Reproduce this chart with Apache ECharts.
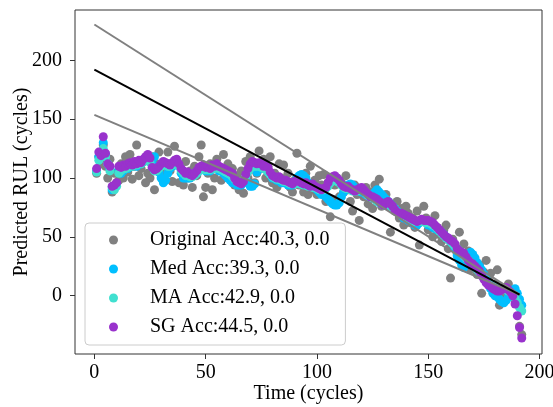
<!DOCTYPE html>
<html>
<head>
<meta charset="utf-8">
<script src="https://cdn.jsdelivr.net/npm/echarts@6/dist/echarts.min.js"></script>
<style>html,body{margin:0;padding:0;background:#fff;}#c{width:553px;height:407px;}</style>
</head>
<body>
<div id="c"></div>
<script>
// ---------------- data ----------------
const seriesNames = ['Original Acc:40.3, 0.0', 'Med Acc:39.3, 0.0', 'MA Acc:42.9, 0.0', 'SG Acc:44.5, 0.0'];
const firstCycle = 1;   // cycles run 1..192

const original = [
104,118,112,128,110,100,116,88,104,96,
98,112,100,118,105,120,99,110,128,102,
108,114,96,104,100,118,90,112,122,104,
98,110,122,106,97,127,112,96,108,94,
114,100,106,92,110,102,118,128,84,92,
104,112,90,100,116,108,98,120,104,112,
100,108,94,102,90,106,87,114,100,118,
110,96,104,123,108,116,100,110,118,96,
104,92,112,100,111,96,104,92,88,98,
121,94,100,88,104,86,110,90,98,86,
102,94,103,80,96,67,82,94,100,84,
96,88,102,90,80,72,94,86,64,90,
84,92,78,88,74,94,80,99,76,84,
86,76,54,78,72,80,66,74,60,76,
70,62,66,58,72,43,64,76,66,56,
62,50,68,58,52,46,56,60,40,15,
48,42,36,54,30,44,26,38,22,34,
30,18,26,2,20,30,14,19,8,10,
22,-8,4,-2,6,10,0,4,-4,-2,
-26,-33];

const med = [
106,118,118,130,120,112,108,90,92,95,
106,104,106,108,108,110,110,112,110,112,
112,114,116,118,115,112,118,110,105,100,
96,98,104,108,110,112,112,110,104,100,
100,100,100,102,104,104,106,108,108,106,
106,106,108,108,108,106,106,104,102,100,
98,96,96,94,94,94,96,98,96,93,
93,95,105,110,110,108,108,105,103,100,
100,98,98,96,96,96,94,94,94,96,
100,102,103,102,100,96,94,94,92,90,
88,86,86,84,82,80,78,77,77,79,
84,88,92,94,95,94,92,90,90,88,
88,86,85,84,86,88,90,88,86,84,
82,80,78,76,74,72,70,68,66,66,
64,64,62,60,60,62,64,63,62,60,
60,58,57,56,55,54,52,50,48,46,
44,40,34,30,26,24,28,34,37,35,
32,28,25,22,18,14,10,6,2,0,
-1,-3,-5,-6,-4,-1,2,4,6,2,
-3,-8];

const ma = [
105,115,118,125,118,112,106,92,90,93,
104,106,108,108,109,110,110,111,111,112,
112,114,115,116,113,109,106,106,108,110,
111,111,110,110,111,112,112,110,106,104,
102,102,101,101,102,104,106,107,108,107,
107,107,108,108,109,108,107,106,105,104,
103,101,99,97,96,96,98,101,105,108,
110,110,110,110,109,108,107,105,103,101,
100,99,99,98,97,97,96,95,95,95,
96,95,95,94,94,93,93,92,92,91,
90,90,90,91,93,96,98,98,97,96,
94,92,91,91,90,89,89,89,90,90,
89,87,85,84,83,82,80,79,78,77,
77,77,76,75,73,71,70,69,68,67,
66,65,64,63,63,63,63,63,62,62,
61,60,59,57,55,53,51,49,48,46,
44,42,40,38,36,34,32,30,28,26,
24,22,20,18,15,13,11,9,8,7,
6,5,5,5,5,4,3,1,-2,-6,
-10,-13];

const sg = [
108,122,119,135,121,112,110,93,94,96,
110,109,111,110,112,113,111,114,112,115,
113,116,118,120,117,109,107,108,110,112,
114,113,112,111,113,115,116,112,108,106,
104,105,103,102,104,106,109,110,111,109,
110,108,111,110,112,110,109,108,107,106,
105,104,100,97,96,95,97,103,108,112,
114,113,112,113,112,110,111,109,105,102,
101,100,101,99,98,98,97,96,95,97,
98,97,96,95,96,94,93,95,93,92,
91,90,91,92,96,100,101,102,100,98,
95,93,92,93,91,90,89,90,91,92,
90,88,86,84,84,83,82,80,78,77,
79,80,78,76,73,71,70,70,69,68,
67,66,65,64,63,64,65,64,64,64,
63,62,60,58,56,54,52,50,49,47,
46,44,40,38,37,36,33,30,28,27,
25,23,21,17,14,11,9,8,6,5,
4,4,5,6,7,5,3,0,-7,-17,
-27,-36];

// reference lines (end points)
const lineCycles = [0, 191];
const trueRUL    = [192, 1];
const upperBound = [230.4, 1.2];
const lowerBound = [153.6, 0.8];

const xTicks = [0, 50, 100, 150, 200];
const yTicks = [0, 50, 100, 150, 200];

// ---------------- chart ----------------
const FONT = "'Liberation Serif','Times New Roman',serif";
const colors = ['#808080', '#00bfff', '#40e0d0', '#9932cc'];
const toPts = arr => arr.map((v, i) => [firstCycle + i, v]);
const linePts = arr => arr.map((v, i) => [lineCycles[i], v]);

const chart = echarts.init(document.getElementById('c'), null, {renderer: 'canvas'});
const scatterData = [original, med, ma, sg];
const series = scatterData.map((arr, k) => ({
  type: 'scatter', name: seriesNames[k], data: toPts(arr),
  symbolSize: 9, itemStyle: {color: colors[k], opacity: 1},
  z: 2 + k * 0.01, animation: false
}));
[[upperBound, '#808080'], [lowerBound, '#808080'], [trueRUL, '#000000']].forEach(([arr, c]) => {
  series.push({type: 'line', data: linePts(arr), showSymbol: false, symbol: 'none',
    lineStyle: {color: c, width: 2}, z: 3, animation: false, silent: true});
});

chart.setOption({
  animation: false,
  backgroundColor: '#fff',
  grid: {left: 75, right: 11, top: 10, bottom: 53, containLabel: false, outerBoundsMode: 'none',
    show: true, borderColor: '#333', borderWidth: 1, backgroundColor: 'transparent'},
  xAxis: {
    type: 'value', min: -8.7, max: 201.1,
    name: 'Time (cycles)', nameLocation: 'middle', nameGap: 30, nameMoveOverlap: false,
    nameTextStyle: {fontFamily: FONT, fontSize: 20, color: '#000'},
    axisLine: {show: false, onZero: false},
    axisTick: {show: true, length: 5, lineStyle: {color: '#333'}, customValues: xTicks},
    axisLabel: {fontFamily: FONT, fontSize: 20, color: '#000', margin: 9, customValues: xTicks},
    splitLine: {show: false}
  },
  yAxis: {
    type: 'value', min: -49.5, max: 242.7,
    name: 'Predicted RUL (cycles)', nameLocation: 'middle', nameGap: 43, nameMoveOverlap: false,
    nameTextStyle: {fontFamily: FONT, fontSize: 20, color: '#000'},
    axisLine: {show: false, onZero: false},
    axisTick: {show: true, length: 5, lineStyle: {color: '#333'}, customValues: yTicks},
    axisLabel: {fontFamily: FONT, fontSize: 20, color: '#000', margin: 13, customValues: yTicks},
    splitLine: {show: false}
  },
  legend: {
    left: 85, top: 223, orient: 'vertical',
    padding: [7, 16, 8, 24],
    itemWidth: 9, itemHeight: 9, itemGap: 9,
    icon: 'circle',
    backgroundColor: 'rgba(255,255,255,0.8)', borderColor: '#cccccc', borderWidth: 1, borderRadius: 4,
    textStyle: {fontFamily: FONT, fontSize: 20, color: '#000', lineHeight: 20, padding: [0, 0, 0, 27]},
    data: seriesNames, selectedMode: false, z: 10
  },
  series: series
});
</script>
</body>
</html>
